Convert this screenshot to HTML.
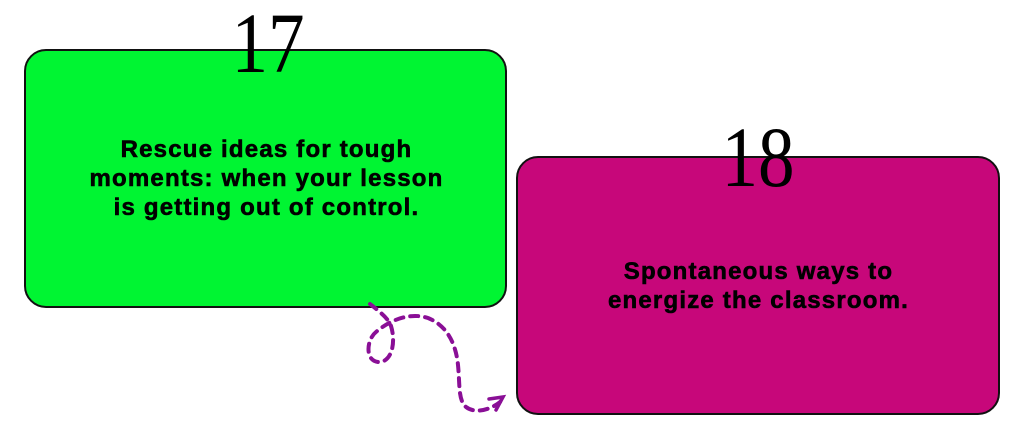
<!DOCTYPE html>
<html><head><meta charset="utf-8"><style>
html,body{margin:0;padding:0;background:#fff;width:1024px;height:429px;overflow:hidden;position:relative}
.box{position:absolute;border:2px solid #111;border-radius:22px;box-sizing:border-box}
.t{position:absolute;font-family:"Liberation Sans",sans-serif;font-weight:bold;font-size:24px;line-height:29px;text-align:center;color:#000;letter-spacing:1.2px;-webkit-text-stroke:0.6px #000}
.n{position:absolute;font-family:"Liberation Serif",serif;font-size:86px;line-height:1;color:#000;text-align:center;transform:scaleX(0.85)}
</style></head><body>
<div class="box" style="left:24px;top:49px;width:483px;height:259px;background:#00f532"></div>
<div class="box" style="left:516px;top:156px;width:484px;height:259px;background:#c7077a"></div>
<div class="n" style="left:218px;top:0px;width:100px">17</div>
<div class="n" style="left:708px;top:114px;width:100px">18</div>
<div class="t" style="left:25px;top:135px;width:483px">Rescue ideas for tough<br>moments: when your lesson<br>is getting out of control.</div>
<div class="t" style="left:517px;top:257px;width:483px">Spontaneous ways to<br>energize the classroom.</div>
<svg width="1024" height="429" style="position:absolute;left:0;top:0">
<path d="M370,304 C380,312 388,318 391,326 C396,342 392,362 379,362 C365,362 366,340 376,332 C390,320 410,312 428,318 C448,326 456,345 458,365 C460,385 458,400 466,407 C475,414 490,410 500,402" fill="none" stroke="#8a0f96" stroke-width="4" stroke-dasharray="8,7" stroke-linecap="round"/>
<path d="M489,399 L503,397 L496,410" fill="none" stroke="#8a0f96" stroke-width="3.5" stroke-linecap="round"/>
</svg>
</body></html>
